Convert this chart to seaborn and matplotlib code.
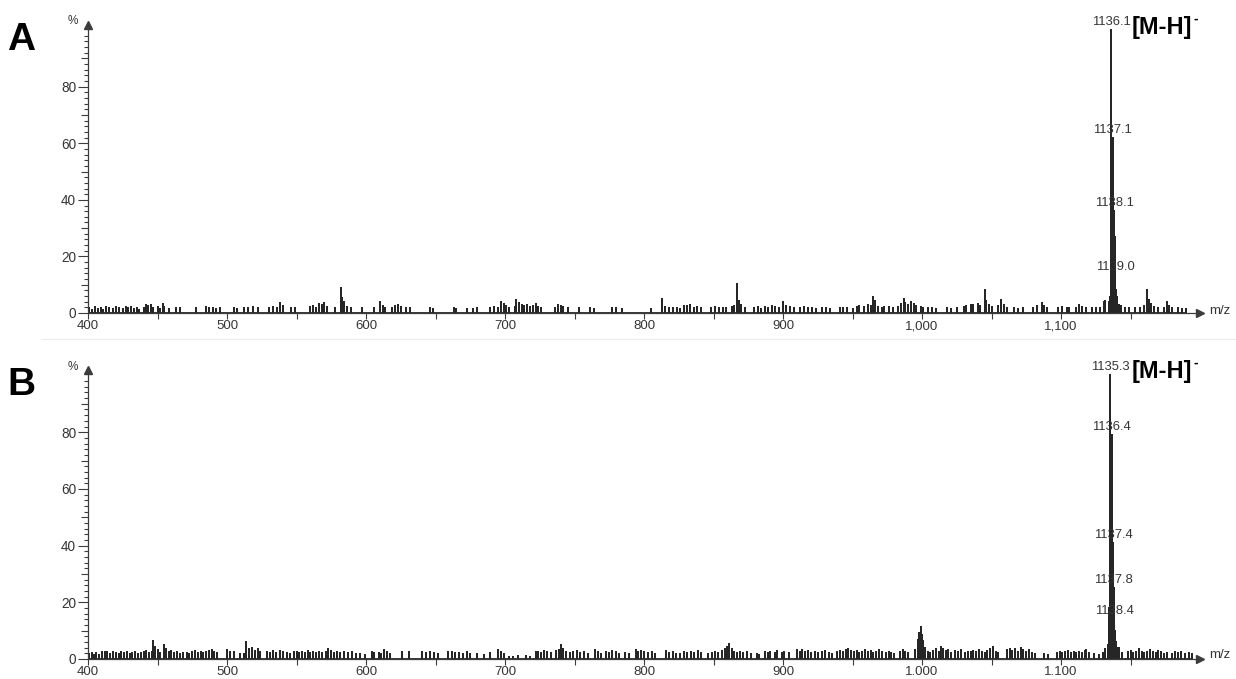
import numpy as np
import pandas as pd
import matplotlib
matplotlib.use("Agg")
import matplotlib.pyplot as plt
import seaborn as sns
from matplotlib.ticker import FixedLocator
from matplotlib.lines import Line2D

# ---------------------------------------------------------------- data
# Spectrum A: baseline noise sticks (m/z, relative intensity %)
a_noise_mz = [
    401, 403, 405, 407, 409, 411, 413, 415, 418, 420,
    422, 425, 427, 429, 431, 433, 435, 437, 440, 442,
    443, 445, 447, 450, 452, 454, 455, 458, 463, 466,
    478, 485, 487, 490, 492, 495, 505, 507, 512, 515,
    519, 522, 530, 533, 536, 538, 540, 546, 549, 560,
    562, 564, 566, 568, 570, 572, 578, 582, 583, 584,
    586, 589, 597, 606, 610, 612, 614, 619, 621, 623,
    625, 629, 632, 646, 648, 663, 665, 673, 677, 680,
    689, 692, 695, 697, 699, 701, 703, 707, 708, 710,
    712, 714, 716, 718, 720, 722, 724, 726, 736, 738,
    740, 742, 745, 753, 761, 764, 777, 780, 784, 805,
    813, 815, 818, 821, 824, 826, 829, 831, 833, 836,
    838, 841, 848, 851, 854, 857, 859, 863, 865, 867,
    868, 870, 873, 879, 882, 884, 887, 889, 892, 894,
    897, 900, 902, 905, 908, 912, 915, 918, 921, 924,
    928, 931, 934, 941, 943, 946, 950, 953, 955, 958,
    961, 963, 965, 966, 968, 971, 973, 976, 979, 983,
    985, 987, 988, 990, 992, 994, 996, 999, 1001, 1004,
    1007, 1010, 1018, 1021, 1025, 1030, 1032, 1035, 1037, 1040,
    1042, 1045, 1046, 1048, 1050, 1055, 1057, 1059, 1061, 1066,
    1069, 1073, 1080, 1083, 1086, 1088, 1090, 1098, 1101, 1104,
    1106, 1111, 1113, 1115, 1118, 1122, 1125, 1128, 1131, 1132,
    1142, 1143, 1146, 1149, 1153, 1157, 1160, 1162, 1163, 1165,
    1167, 1170, 1174, 1176, 1178, 1180, 1184, 1187, 1190]
a_noise_int = [
    1.8, 1.2, 2.1, 1.5, 1.9, 1.0, 2.0, 1.6, 1.4, 2.2,
    1.7, 1.3, 2.0, 1.8, 2.1, 1.5, 1.9, 1.2, 1.6, 3.0,
    2.4, 2.7, 1.8, 2.2, 1.5, 3.1, 2.0, 1.4, 1.6, 1.9,
    1.8, 2.0, 1.7, 1.9, 1.5, 1.8, 1.7, 1.4, 1.6, 1.9,
    2.0, 1.6, 1.8, 2.2, 1.9, 3.6, 2.5, 1.7, 1.8, 2.0,
    2.3, 1.9, 3.3, 2.8, 3.4, 2.0, 1.8, 8.8, 5.2, 4.0,
    2.1, 1.6, 1.8, 1.7, 4.0, 2.6, 1.9, 1.8, 2.5, 3.0,
    2.0, 1.9, 1.6, 1.8, 1.5, 1.7, 1.4, 1.5, 1.4, 1.6,
    1.6, 2.0, 1.8, 4.0, 3.1, 2.4, 1.9, 2.2, 4.5, 3.4,
    2.8, 2.5, 3.0, 2.2, 2.6, 3.2, 2.0, 1.8, 1.6, 2.9,
    2.4, 2.0, 1.7, 1.8, 1.7, 1.5, 1.8, 1.6, 1.5, 1.5,
    5.0, 2.0, 1.8, 1.6, 1.9, 1.5, 2.6, 2.4, 2.8, 1.7,
    2.2, 1.9, 1.8, 2.0, 1.7, 1.8, 1.6, 2.1, 2.6, 10.3,
    4.3, 2.9, 1.8, 1.6, 2.0, 1.5, 2.2, 1.8, 2.6, 2.1,
    1.9, 3.8, 2.5, 2.0, 1.7, 1.8, 2.0, 1.6, 1.9, 1.5,
    1.7, 1.8, 1.4, 1.9, 1.6, 1.7, 1.5, 2.0, 2.4, 2.2,
    3.0, 2.6, 5.6, 4.2, 2.0, 1.9, 2.2, 2.0, 1.8, 2.1,
    3.1, 4.9, 3.6, 2.8, 4.0, 3.2, 2.5, 2.0, 1.7, 1.8,
    1.6, 1.5, 1.7, 1.5, 1.6, 2.0, 2.5, 3.0, 2.8, 3.3,
    2.5, 8.0, 4.4, 2.9, 2.0, 2.4, 4.5, 3.0, 1.8, 1.7,
    1.5, 1.6, 1.8, 2.6, 3.6, 2.4, 1.7, 1.7, 2.0, 1.6,
    1.9, 1.8, 2.8, 2.2, 1.9, 1.7, 1.6, 1.8, 4.0, 4.2,
    3.0, 2.4, 1.9, 1.7, 1.6, 1.8, 2.6, 8.0, 4.6, 3.2,
    2.0, 1.7, 1.8, 4.0, 2.6, 1.9, 1.6, 1.5, 1.4]

# Spectrum A: [M-H]- isotope cluster
a_peak_mz = [1134.6, 1135.2, 1135.7, 1136.1, 1136.6, 1137.1, 1137.6,
             1138.1, 1138.6, 1139.0, 1139.5, 1140.0, 1140.6]
a_peak_int = [4.0, 5.5, 12.0, 100.0, 30.0, 62.0, 43.0,
              36.0, 27.0, 13.5, 8.0, 5.5, 5.0]
a_labels = ["1136.1", "1137.1", "1138.1", "1139.0"]

# Spectrum B: baseline noise sticks
b_noise_mz = [
    401, 403, 404, 406, 408, 410, 412, 414, 416, 418,
    420, 422, 424, 426, 428, 430, 432, 434, 436, 438,
    440, 442, 444, 446, 447, 448, 450, 452, 455, 456,
    458, 460, 462, 464, 466, 468, 471, 473, 475, 477,
    479, 481, 483, 485, 487, 489, 491, 493, 500, 502,
    505, 509, 512, 514, 516, 518, 520, 522, 524, 529,
    531, 533, 535, 538, 540, 543, 545, 548, 550, 552,
    554, 556, 558, 560, 562, 564, 566, 568, 571, 573,
    575, 577, 579, 581, 584, 587, 590, 593, 596, 599,
    604, 606, 609, 611, 613, 615, 617, 626, 631, 640,
    643, 646, 649, 652, 659, 662, 664, 667, 670, 673,
    675, 680, 685, 689, 695, 697, 699, 703, 706, 709,
    715, 718, 722, 724, 726, 728, 730, 733, 737, 739,
    740, 742, 744, 747, 749, 752, 754, 757, 760, 765,
    767, 769, 773, 775, 777, 780, 782, 786, 789, 794,
    796, 798, 800, 803, 806, 808, 816, 818, 821, 823,
    826, 829, 831, 834, 836, 839, 841, 846, 849, 851,
    853, 856, 858, 860, 861, 863, 865, 867, 869, 871,
    874, 877, 881, 883, 887, 889, 891, 894, 896, 899,
    901, 904, 910, 912, 914, 916, 918, 920, 923, 925,
    928, 930, 933, 935, 939, 941, 943, 945, 947, 949,
    951, 953, 955, 957, 959, 961, 963, 965, 967, 969,
    971, 974, 976, 978, 980, 984, 986, 988, 990, 995,
    997, 998, 999, 1000, 1001, 1002, 1004, 1006, 1008, 1010,
    1012, 1014, 1015, 1017, 1019, 1021, 1024, 1026, 1028, 1031,
    1033, 1035, 1037, 1039, 1041, 1043, 1045, 1047, 1049, 1051,
    1053, 1055, 1061, 1063, 1065, 1067, 1069, 1071, 1073, 1075,
    1077, 1079, 1081, 1088, 1091, 1097, 1099, 1101, 1103, 1105,
    1107, 1109, 1111, 1113, 1115, 1117, 1118, 1120, 1124, 1127,
    1130, 1132, 1142, 1144, 1148, 1150, 1152, 1154, 1156, 1158,
    1160, 1162, 1164, 1166, 1168, 1170, 1172, 1174, 1176, 1180,
    1182, 1184, 1186, 1189, 1192, 1194]
b_noise_int = [
    1.9, 2.2, 1.5, 2.0, 1.4, 2.6, 2.3, 2.5, 1.8, 2.4,
    2.2, 1.7, 2.3, 2.0, 2.4, 1.9, 2.1, 2.6, 1.8, 2.2,
    2.4, 2.8, 2.0, 2.5, 6.5, 4.2, 3.0, 2.1, 4.8, 3.5,
    2.4, 2.8, 2.0, 2.5, 1.8, 2.2, 2.1, 1.7, 2.5, 2.9,
    2.2, 2.6, 2.0, 2.4, 2.8, 3.3, 2.5, 2.0, 3.0, 2.4,
    2.6, 1.8, 1.6, 6.0, 3.6, 3.9, 2.8, 3.5, 2.6, 2.5,
    2.0, 2.7, 2.2, 2.9, 2.4, 2.2, 1.9, 2.3, 2.6, 2.0,
    2.5, 2.2, 2.7, 2.0, 2.4, 2.1, 2.6, 2.0, 2.5, 3.4,
    2.7, 2.2, 2.6, 2.0, 2.3, 2.1, 2.5, 1.9, 1.6, 1.5,
    2.4, 2.0, 2.2, 1.8, 3.1, 2.5, 1.9, 2.4, 2.6, 2.5,
    2.0, 2.4, 2.2, 1.9, 2.3, 2.6, 2.0, 2.2, 1.8, 2.4,
    1.9, 1.8, 1.5, 2.0, 3.0, 2.4, 1.8, 0.8, 0.7, 0.9,
    1.2, 0.8, 2.3, 2.6, 2.1, 2.8, 2.4, 2.2, 2.7, 3.2,
    5.0, 3.6, 2.5, 2.1, 2.3, 2.8, 2.2, 2.5, 1.9, 3.0,
    2.4, 1.8, 2.6, 2.2, 2.9, 2.3, 1.8, 2.0, 1.7, 3.2,
    2.6, 2.9, 2.4, 2.0, 2.6, 1.9, 2.7, 2.1, 2.4, 1.8,
    1.6, 2.4, 2.0, 2.6, 2.2, 2.8, 2.0, 1.7, 2.2, 2.6,
    2.0, 2.8, 3.5, 4.2, 5.2, 3.4, 2.6, 2.2, 2.5, 2.0,
    2.3, 1.9, 1.8, 1.5, 2.4, 2.0, 2.6, 2.2, 2.8, 2.1,
    2.5, 2.0, 3.0, 2.6, 3.2, 2.4, 2.8, 2.2, 2.6, 2.0,
    2.4, 2.8, 2.2, 1.8, 2.5, 2.9, 2.4, 3.0, 3.6, 2.7,
    2.4, 2.9, 2.2, 2.6, 3.0, 2.3, 2.7, 2.1, 2.5, 3.1,
    2.4, 2.0, 2.6, 2.2, 1.9, 2.6, 3.0, 2.4, 2.0, 3.2,
    6.8, 9.2, 11.3, 8.5, 6.2, 4.0, 2.6, 2.2, 2.8, 3.4,
    2.6, 4.2, 3.6, 2.8, 3.0, 2.2, 2.9, 2.4, 3.0, 2.2,
    2.6, 2.3, 2.8, 2.4, 3.0, 2.6, 2.2, 2.9, 3.4, 4.1,
    2.6, 2.0, 3.0, 3.6, 2.8, 3.4, 2.6, 4.0, 3.2, 2.4,
    3.0, 2.2, 1.8, 1.6, 1.4, 2.2, 2.6, 2.0, 2.4, 2.8,
    2.1, 2.6, 2.0, 2.5, 2.2, 2.8, 3.2, 2.2, 1.8, 1.5,
    2.0, 3.5, 4.0, 2.0, 2.4, 2.8, 2.2, 2.6, 3.4, 2.4,
    2.0, 2.6, 3.2, 2.4, 2.0, 2.8, 2.3, 1.9, 2.2, 1.8,
    2.4, 2.0, 2.6, 1.7, 2.2, 1.8]

# Spectrum B: [M-H]- isotope cluster
b_peak_mz = [1133.6, 1134.2, 1134.7, 1135.3, 1135.8, 1136.4, 1136.9,
             1137.4, 1137.8, 1138.4, 1138.9, 1139.5, 1140.2]
b_peak_int = [5.0, 8.0, 18.0, 100.0, 60.0, 79.0, 56.0,
              41.0, 25.0, 14.0, 10.0, 6.0, 4.0]
b_labels = ["1135.3", "1136.4", "1137.4", "1137.8", "1138.4"]

x_major = [400, 500, 600, 700, 800, 900, 1000, 1100]
x_minor = [450, 550, 650, 750, 850, 950, 1050, 1150]
a_xlabels = ["400", "500", "600", "700", "800", "900", "1,000", "1,100"]
b_xlabels = ["400", "500", "600", "700", "800", "900", "1.000", "1.100"]
y_major = [0, 20, 40, 60, 80]
y_mid = [10, 30, 50, 70, 90]
y_minor = [v for v in range(2, 101, 2) if v % 10]

assert len(a_noise_mz) == len(a_noise_int)
assert len(b_noise_mz) == len(b_noise_int)

# ---------------------------------------------------------------- style
sns.set_style("ticks")
plt.rcParams["font.family"] = ["Liberation Sans", "DejaVu Sans"]
INK = "#262626"
AXC = "#3c3c3c"
TXT = "#353535"

W, H = 1236, 679
fig = plt.figure(figsize=(W / 100, H / 100), dpi=100)
fig.patch.set_facecolor("white")


def stick_frame(mz, inten):
    """Turn centroid sticks into a drawable profile (0 -> h -> 0 per stick)."""
    m = np.asarray(mz, float)
    h = np.asarray(inten, float)
    order = np.argsort(m)
    m, h = m[order], h[order]
    x = np.repeat(m, 3)
    y = np.column_stack([np.zeros_like(h), h, np.zeros_like(h)]).ravel()
    return pd.DataFrame({"mz": x, "pct": y})


def draw_panel(ax, noise_mz, noise_int, peak_mz, peak_int, labels, xlabels):
    df = stick_frame(list(noise_mz) + list(peak_mz), list(noise_int) + list(peak_int))
    sns.lineplot(data=df, x="mz", y="pct", estimator=None, sort=False,
                 ax=ax, color=INK, lw=1.3)
    ax.set_xlim(400, 1200)
    ax.set_ylim(0, 102)
    ax.set_xlabel("")
    ax.set_ylabel("")
    ax.set_facecolor("none")
    sns.despine(ax=ax)
    for s in ("left", "bottom"):
        ax.spines[s].set_color(AXC)
        ax.spines[s].set_linewidth(0.9)

    # axis arrows
    ax.plot([0], [1], marker="^", markersize=6, color=AXC,
            transform=ax.transAxes, clip_on=False)
    ax.plot([1], [0], marker=">", markersize=6, color=AXC,
            transform=ax.transAxes, clip_on=False)

    # x ticks
    ax.set_xticks(x_major)
    ax.set_xticklabels(xlabels)
    ax.xaxis.set_minor_locator(FixedLocator(x_minor))
    ax.tick_params(axis="x", which="both", direction="out", length=4.5,
                   width=0.8, color=AXC, labelcolor=TXT, labelsize=9.5, pad=0.8)

    # y ticks: labelled majors, mid ticks at odd tens, fine minors
    ax.set_yticks(y_major)
    ax.yaxis.set_minor_locator(FixedLocator(y_minor))
    ax.tick_params(axis="y", which="major", direction="out", length=7.5,
                   width=0.8, color=AXC, labelcolor=TXT, labelsize=9.8, pad=1)
    ax.tick_params(axis="y", which="minor", direction="out", length=3,
                   width=0.8, color=AXC)
    sec = ax.secondary_yaxis("left")
    sec.set_yticks(y_mid)
    sec.tick_params(axis="y", direction="out", length=5, width=0.8,
                    color=AXC, labelleft=False)
    sec.spines["left"].set_visible(False)

    # peak annotations
    lookup = dict(zip(peak_mz, peak_int))
    for lab in labels:
        mz = float(lab)
        ax.annotate(lab, xy=(mz, lookup[mz]), xytext=(0, 1.5),
                    textcoords="offset points", ha="center", va="bottom",
                    fontsize=9.4, color=TXT, annotation_clip=False)


# axes placed in pixel terms: x axis 400..1200 spans px 88..1200
axA = fig.add_axes([88 / W, (H - 313) / H, 1112 / W, 288.5 / H])
axB = fig.add_axes([88 / W, (H - 659) / H, 1112 / W, 289.2 / H])

draw_panel(axA, a_noise_mz, a_noise_int, a_peak_mz, a_peak_int, a_labels, a_xlabels)
draw_panel(axB, b_noise_mz, b_noise_int, b_peak_mz, b_peak_int, b_labels, b_xlabels)

# panel letters, units and ion labels
for letter, base_y, pct_y, mz_y, ion_y, ax in (
        ("A", 50, 21, 311, 34, axA), ("B", 395, 367, 655, 378, axB)):
    fig.text(7 / W, 1 - base_y / H, letter, fontsize=28, fontweight="bold",
             color="black", ha="left", va="baseline")
    fig.text(73 / W, 1 - pct_y / H, "%", fontsize=8.5, color=TXT,
             ha="center", va="center")
    fig.text(1209 / W, 1 - mz_y / H, "m/z", fontsize=9.5, color=TXT,
             ha="left", va="center")
    ion = fig.text(1132 / W, 1 - ion_y / H, "[M-H]", fontsize=17,
                   fontweight="bold", color="black", ha="left", va="baseline")
    ax.annotate("-", xy=(1, 1), xycoords=ion, xytext=(1, 3),
                textcoords="offset points", ha="left", va="top",
                fontsize=10, fontweight="bold", color="black",
                annotation_clip=False)

# faint divider between the two spectra
fig.add_artist(Line2D([42 / W, 1.0], [1 - 339 / H] * 2, color="#ececec", lw=0.8))

fig.savefig("out.png", dpi=100, facecolor="white")
